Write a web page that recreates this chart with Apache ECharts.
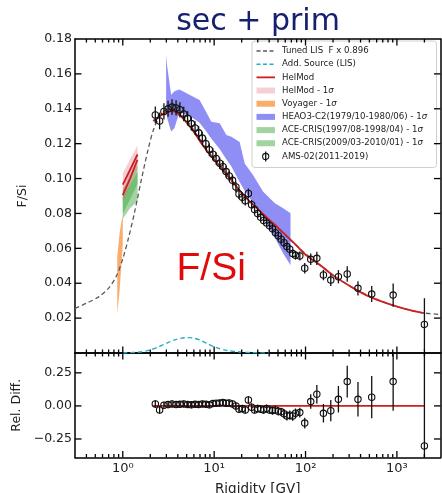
<!DOCTYPE html>
<html>
<head>
<meta charset="utf-8">
<script src="https://cdn.jsdelivr.net/npm/echarts@6/dist/echarts.min.js"></script>
<style>
  html, body { margin: 0; padding: 0; background: #fff; }
  #chart { width: 442px; height: 493px; }
</style>
</head>
<body>
<div id="chart"></div>
<script>
// ---- AMS-02 (2011-2019) F/Si ratio ----
const amsRigidity = [2.27, 2.53, 2.82, 3.13, 3.46, 3.83, 4.22, 4.65, 5.12, 5.63,
  6.18, 6.77, 7.42, 8.11, 8.86, 9.67, 10.5, 11.5, 12.5, 13.5,
  14.6, 15.9, 17.3, 18.7, 20.3, 21.9, 23.7, 25.7, 27.7, 29.9,
  32.3, 34.8, 37.5, 40.4, 43.5, 46.8, 50.3, 54.1, 58.2, 62.5,
  67.2, 72.3, 77.7, 86.6, 98, 114, 133, 157, 189, 229,
  286, 375, 530, 910, 2000];
const amsRatio = [0.1365, 0.1330, 0.1385, 0.1400, 0.1410, 0.1405, 0.1395, 0.1370, 0.1345, 0.1315,
  0.1290, 0.1262, 0.1232, 0.1200, 0.1165, 0.1140, 0.1115, 0.1088, 0.1068, 0.1040,
  0.1015, 0.0990, 0.0952, 0.0912, 0.0893, 0.0873, 0.0915, 0.0850, 0.0822, 0.0800,
  0.0778, 0.0760, 0.0745, 0.0730, 0.0712, 0.0690, 0.0672, 0.0652, 0.0632, 0.0610,
  0.0595, 0.0570, 0.0560, 0.0556, 0.0486, 0.0537, 0.0543, 0.0447, 0.0418, 0.0437,
  0.0453, 0.0371, 0.0338, 0.0332, 0.0164];
const amsRatioErr = [0.0048, 0.0048, 0.0047, 0.0046, 0.0045, 0.0044, 0.0043, 0.0042, 0.0041, 0.0040,
  0.0039, 0.0038, 0.0037, 0.0036, 0.0036, 0.0035, 0.0034, 0.0033, 0.0032, 0.0032,
  0.0031, 0.0030, 0.0030, 0.0029, 0.0029, 0.0028, 0.0028, 0.0027, 0.0027, 0.0026,
  0.0026, 0.0026, 0.0025, 0.0025, 0.0025, 0.0025, 0.0024, 0.0024, 0.0024, 0.0024,
  0.0024, 0.0025, 0.0025, 0.0026, 0.0030, 0.0033, 0.0038, 0.0030, 0.0034, 0.0038,
  0.0045, 0.0041, 0.0046, 0.0067, 0.0150];
const amsRelDiff = [0.015, -0.030, 0.005, 0.010, 0.015, 0.010, 0.012, 0.015, 0.010, 0.008,
  0.012, 0.010, 0.015, 0.012, 0.008, 0.018, 0.020, 0.022, 0.025, 0.020,
  0.022, 0.015, 0.000, -0.025, -0.020, -0.030, 0.045, -0.010, -0.030, -0.020,
  -0.025, -0.030, -0.020, -0.030, -0.035, -0.030, -0.040, -0.045, -0.060, -0.076,
  -0.070, -0.076, -0.055, -0.050, -0.130, 0.033, 0.088, -0.056, -0.036, 0.050,
  0.184, 0.050, 0.066, 0.184, -0.303];
const amsRelDiffErr = [0.028, 0.028, 0.027, 0.027, 0.026, 0.026, 0.025, 0.025, 0.025, 0.025,
  0.025, 0.025, 0.025, 0.025, 0.025, 0.025, 0.025, 0.025, 0.025, 0.025,
  0.025, 0.025, 0.026, 0.026, 0.027, 0.027, 0.028, 0.028, 0.028, 0.029,
  0.029, 0.030, 0.030, 0.030, 0.031, 0.031, 0.032, 0.032, 0.034, 0.035,
  0.035, 0.036, 0.036, 0.037, 0.040, 0.055, 0.070, 0.070, 0.080, 0.100,
  0.120, 0.130, 0.160, 0.220, 0.700];

// ---- HelMod modulated F/Si for the AMS-02 period ----
const helmodRigidity = [2.15, 2.5, 2.8, 3.2, 3.6, 4.0, 4.5, 5.0, 5.6, 6.4,
  7.4, 8.9, 10.6, 12.5, 14.7, 17.5, 21, 26.7, 33, 40,
  50, 62, 80, 100, 144, 200, 334, 500, 780, 1200, 1970];
const helmodRatio = [0.1330, 0.1355, 0.1372, 0.1385, 0.1385, 0.1372, 0.1348, 0.1320, 0.1288, 0.1245,
  0.1195, 0.1140, 0.1095, 0.1050, 0.1005, 0.0955, 0.0905, 0.0850, 0.0805, 0.0765,
  0.0718, 0.0672, 0.0615, 0.0563, 0.0505, 0.0445, 0.0372, 0.0323, 0.0285, 0.0255, 0.0228];
const relDiffRefRigidity = [2.15, 2000];
const relDiffRef = [0, 0];

// ---- HelMod at low rigidity (two periods) with 1 sigma bands ----
const helmodLowRigidity = [1.0, 1.2, 1.45];
const helmodLowA = [0.0965, 0.1050, 0.1138];
const helmodLowB = [0.0905, 0.1000, 0.1108];
const helmodBandALo = [0.0915, 0.1000, 0.1080];
const helmodBandAHi = [0.1030, 0.1110, 0.1190];
const helmodBandBLo = [0.0865, 0.0955, 0.1055];
const helmodBandBHi = [0.0955, 0.1045, 0.1155];

// ---- Tuned LIS (F x 0.896) ----
const lisRigidity = [0.3, 0.4, 0.55, 0.7, 0.85, 1.0, 1.15, 1.35, 1.6, 1.9,
  2.2, 2.6, 3.0, 3.5, 4.0, 5.0, 6.5, 8.5, 11, 15,
  20, 27, 40, 60, 90, 140, 220, 350, 550, 900, 1400, 2000, 3000];
const lisRatio = [0.0256, 0.0285, 0.0323, 0.0372, 0.0440, 0.0540, 0.0655, 0.0810, 0.0995, 0.1170,
  0.1290, 0.1365, 0.1395, 0.1400, 0.1385, 0.1335, 0.1250, 0.1160, 0.1080, 0.0995,
  0.0915, 0.0848, 0.0763, 0.0676, 0.0590, 0.0508, 0.0432, 0.0366, 0.0316, 0.0274, 0.0245, 0.0229, 0.0221];

// ---- Additional source (LIS) ----
const addRigidity = [1.0, 1.3, 1.65, 2.2, 2.74, 3.4, 4.2, 5.2, 6.5, 8.0, 9.6, 12, 16, 22, 30, 40];
const addRatio = [0.0000, 0.0003, 0.0008, 0.0025, 0.0046, 0.0068, 0.0083, 0.0088, 0.0080, 0.0060,
  0.0040, 0.0022, 0.0010, 0.0004, 0.0001, 0.0000];

// ---- Voyager 1 sigma ----
const voyagerRigidity = [0.87, 0.92, 0.97, 1.0];
const voyagerLo = [0.0225, 0.0350, 0.0520, 0.0620];
const voyagerHi = [0.0550, 0.0680, 0.0760, 0.0790];

// ---- HEAO3-C2 (1979/10-1980/06) 1 sigma ----
const heaoRigidity = [2.98, 3.05, 3.38, 3.68, 4.17, 5.37, 6.92, 8.21, 9.3, 11.5,
  13.6, 15.4, 19.0, 21.6, 26.6, 34.4, 46.2, 57, 68.5];
const heaoLo = [0.1390, 0.1350, 0.1270, 0.1290, 0.1380, 0.1360, 0.1320, 0.1270, 0.1230, 0.1170,
  0.1110, 0.1070, 0.0980, 0.0930, 0.0860, 0.0780, 0.0660, 0.0570, 0.0504];
const heaoHi = [0.1710, 0.1650, 0.1480, 0.1500, 0.1510, 0.1480, 0.1450, 0.1380, 0.1326, 0.1317,
  0.1250, 0.1240, 0.1210, 0.1087, 0.1020, 0.0925, 0.0858, 0.0830, 0.0801];

// ---- ACE-CRIS 1 sigma (1997/08-1998/04 and 2009/03-2010/01) ----
const aceRigidity = [1.0, 1.2, 1.45];
const ace1997Lo = [0.0800, 0.0880, 0.0970];
const ace1997Hi = [0.0935, 0.1005, 0.1080];
const ace2009Lo = [0.0770, 0.0830, 0.0870];
const ace2009Hi = [0.0900, 0.0960, 0.1040];

// ---- axis ticks ----
const xMajorTicks = [1, 10, 100, 1000];
const xMajorLabels = ['10\u2070', '10\u00b9', '10\u00b2', '10\u00b3'];
const xMinorTicks = [0.4, 0.5, 0.6, 0.7, 0.8, 0.9, 2, 3, 4, 5, 6, 7, 8, 9,
  20, 30, 40, 50, 60, 70, 80, 90, 200, 300, 400, 500, 600, 700, 800, 900, 2000];
const ratioTicks = [0.02, 0.04, 0.06, 0.08, 0.10, 0.12, 0.14, 0.16];
const relDiffTicks = [-0.25, 0, 0.25];

// ---- colours ----
const C_RED = '#cc1f1f';
const C_LIS = '#5a5a5a';
const C_ADD = '#1fb0c2';
const C_PINK = 'rgba(222,110,125,0.32)';
const C_ORANGE = 'rgba(248,140,50,0.72)';
const C_HEAO = 'rgba(88,88,240,0.68)';
const C_GREEN = 'rgba(70,170,70,0.5)';
const FONT = 'DejaVu Sans';

const zip = (xs, ys) => xs.map((x, i) => [x, ys[i]]);

function bandSeries(R, lo, hi, fill, z) {
  return {
    type: 'custom', xAxisIndex: 0, yAxisIndex: 0, z, silent: true, clip: true,
    data: R.map((r, i) => [r, lo[i], hi[i]]),
    encode: { x: 0, y: [1, 2] },
    renderItem(params, api) {
      if (params.dataIndex !== 0) return null;
      const upper = R.map((r, i) => api.coord([r, hi[i]]));
      const lower = R.map((r, i) => api.coord([r, lo[i]])).reverse();
      return { type: 'polygon', shape: { points: upper.concat(lower) }, style: { fill } };
    }
  };
}

function curveSeries(R, V, color, width, dash, xIdx, yIdx, z, smooth) {
  return {
    type: 'line', xAxisIndex: xIdx, yAxisIndex: yIdx, z, silent: true,
    data: zip(R, V), showSymbol: false, symbol: 'none', smooth: smooth || false,
    clip: true,
    lineStyle: { color, width, type: dash ? [4.5, 3] : 'solid', cap: 'butt' }
  };
}

function errorBarSeries(R, V, E, xIdx, yIdx) {
  return {
    type: 'custom', xAxisIndex: xIdx, yAxisIndex: yIdx, z: 20, silent: true, clip: true,
    data: R.map((r, i) => [r, V[i], E[i]]),
    encode: { x: 0, y: 1 },
    renderItem(params, api) {
      const x = api.value(0), y = api.value(1), e = api.value(2);
      const c = api.coord([x, y]);
      const top = api.coord([x, y + e]);
      const bot = api.coord([x, y - e]);
      return {
        type: 'group',
        children: [
          { type: 'line', shape: { x1: c[0], y1: top[1], x2: c[0], y2: bot[1] },
            style: { stroke: '#111', lineWidth: 1.3 } },
          { type: 'circle', shape: { cx: c[0], cy: c[1], r: 3.2 },
            style: { fill: 'none', stroke: '#111', lineWidth: 1.1 } }
        ]
      };
    }
  };
}

// Inward ticks on all four sides of a panel, placed through the panel's own axes.
// Row: [x, y, kind]  kind 0 = x major, 1 = x minor, 2 = y major
function tickSeries(xIdx, yIdx, yTicks, yRef) {
  const rows = []
    .concat(xMajorTicks.map(v => [v, yRef, 0]))
    .concat(xMinorTicks.map(v => [v, yRef, 1]))
    .concat(yTicks.map(v => [1, v, 2]));
  return {
    type: 'custom', xAxisIndex: xIdx, yAxisIndex: yIdx, z: 25, silent: true, clip: false,
    data: rows,
    encode: { x: 0, y: 1 },
    renderItem(params, api) {
      const cs = params.coordSys;
      const kind = api.value(2);
      const p = api.coord([api.value(0), api.value(1)]);
      const style = { stroke: '#000', lineWidth: 1.3 };
      if (kind === 2) {
        const L = 6.5;
        return { type: 'group', children: [
          { type: 'line', shape: { x1: cs.x, y1: p[1], x2: cs.x + L, y2: p[1] }, style },
          { type: 'line', shape: { x1: cs.x + cs.width - L, y1: p[1], x2: cs.x + cs.width, y2: p[1] }, style }
        ] };
      }
      const L = kind === 0 ? 6.5 : 3.5;
      return { type: 'group', children: [
        { type: 'line', shape: { x1: p[0], y1: cs.y, x2: p[0], y2: cs.y + L }, style },
        { type: 'line', shape: { x1: p[0], y1: cs.y + cs.height - L, x2: p[0], y2: cs.y + cs.height }, style }
      ] };
    }
  };
}

const frameLine = { show: true, onZero: false, lineStyle: { color: '#000', width: 1.5 } };

function logAxis(gridIndex, position, labels) {
  return {
    type: 'log', logBase: 10, min: 0.3, max: 3000, gridIndex, position,
    axisLine: frameLine,
    splitLine: { show: false },
    axisTick: { show: false },
    axisLabel: labels ? {
      show: true, customValues: xMajorTicks, margin: 5,
      fontFamily: FONT, fontSize: 13, color: '#222',
      formatter: v => xMajorLabels[Math.round(Math.log10(v))]
    } : { show: false },
    minorTick: { show: false }
  };
}

function valueAxis(gridIndex, position, min, max, extra) {
  return Object.assign({
    type: 'value', gridIndex, position, min, max,
    axisLine: frameLine, splitLine: { show: false },
    axisTick: { show: false },
    axisLabel: { show: false }
  }, extra);
}

const chart = echarts.init(document.getElementById('chart'), null, { renderer: 'canvas' });

const gridBase = { left: 75, width: 365.5, show: false,
  containLabel: false, outerBoundsMode: 'none' };

const option = {
  animation: false,
  backgroundColor: '#fff',
  grid: [
    Object.assign({ top: 39, height: 314 }, gridBase),
    Object.assign({ top: 353, height: 104.5 }, gridBase)
  ],
  xAxis: [
    logAxis(0, 'bottom', false),
    logAxis(0, 'top', false),
    Object.assign(logAxis(1, 'bottom', true), {
      name: 'Rigidity [GV]', nameLocation: 'middle', nameGap: 25,
      nameTextStyle: { fontFamily: FONT, fontSize: 13.5, color: '#222' }
    }),
    logAxis(1, 'top', false)
  ],
  yAxis: [
    valueAxis(0, 'left', 0, 0.18, {
      interval: 0.02,
      name: 'F/Si', nameLocation: 'middle', nameGap: 46, nameRotate: 90,
      nameTextStyle: { fontFamily: FONT, fontSize: 12.5, color: '#222' },
      axisLabel: { show: true, showMinLabel: false, margin: 3, fontFamily: FONT, fontSize: 12.5, color: '#222',
        formatter: v => v.toFixed(2) }
    }),
    valueAxis(0, 'right', 0, 0.18, { interval: 0.02 }),
    valueAxis(1, 'left', -0.39, 0.40, {
      name: 'Rel. Diff.', nameLocation: 'middle', nameGap: 46, nameRotate: 90,
      nameTextStyle: { fontFamily: FONT, fontSize: 12.5, color: '#222' },
      axisLabel: { show: true, customValues: relDiffTicks, margin: 3, fontFamily: FONT, fontSize: 12.5, color: '#222',
        formatter: v => (v < 0 ? '\u2212' : '') + Math.abs(v).toFixed(2) }
    }),
    valueAxis(1, 'right', -0.39, 0.40, {})
  ],
  series: [
    bandSeries(heaoRigidity, heaoLo, heaoHi, C_HEAO, 2),
    bandSeries(voyagerRigidity, voyagerLo, voyagerHi, C_ORANGE, 2),
    bandSeries(aceRigidity, ace1997Lo, ace1997Hi, C_GREEN, 2),
    bandSeries(aceRigidity, ace2009Lo, ace2009Hi, C_GREEN, 2),
    bandSeries(helmodLowRigidity, helmodBandALo, helmodBandAHi, C_PINK, 3),
    bandSeries(helmodLowRigidity, helmodBandBLo, helmodBandBHi, C_PINK, 3),
    curveSeries(lisRigidity, lisRatio, C_LIS, 1.3, true, 0, 0, 4, 0.3),
    curveSeries(addRigidity, addRatio, C_ADD, 1.4, true, 0, 0, 4, 0.4),
    curveSeries(helmodLowRigidity, helmodLowA, C_RED, 1.8, false, 0, 0, 5),
    curveSeries(helmodLowRigidity, helmodLowB, C_RED, 1.8, false, 0, 0, 5),
    curveSeries(helmodRigidity, helmodRatio, C_RED, 1.8, false, 0, 0, 6, 0.3),
    curveSeries(relDiffRefRigidity, relDiffRef, C_RED, 1.8, false, 2, 2, 6),
    errorBarSeries(amsRigidity, amsRatio, amsRatioErr, 0, 0),
    errorBarSeries(amsRigidity, amsRelDiff, amsRelDiffErr, 2, 2),
    tickSeries(0, 0, ratioTicks, 0.1),
    tickSeries(2, 2, relDiffTicks, 0)
  ]
};

// ---- legend, title and in-panel label ----
const legendRows = [
  { kind: 'line', color: C_LIS, dash: true, text: 'Tuned LIS  F x 0.896' },
  { kind: 'line', color: C_ADD, dash: true, text: 'Add. Source (LIS)' },
  { kind: 'line', color: C_RED, dash: false, text: 'HelMod' },
  { kind: 'rect', color: C_PINK, text: 'HelMod - 1', sigma: true },
  { kind: 'rect', color: C_ORANGE, text: 'Voyager - 1', sigma: true },
  { kind: 'rect', color: C_HEAO, text: 'HEAO3-C2(1979/10-1980/06) - 1', sigma: true },
  { kind: 'rect', color: C_GREEN, text: 'ACE-CRIS(1997/08-1998/04) - 1', sigma: true },
  { kind: 'rect', color: C_GREEN, text: 'ACE-CRIS(2009/03-2010/01) - 1', sigma: true },
  { kind: 'errbar', text: 'AMS-02(2011-2019)' }
];

const legendChildren = [
  { type: 'rect', shape: { x: 252, y: 41, width: 184.5, height: 126.5, r: 3 },
    style: { fill: 'rgba(255,255,255,0.92)', stroke: '#cfcfcf', lineWidth: 1 } }
];
legendRows.forEach((row, i) => {
  const cy = 51 + i * 13.18;
  if (row.kind === 'line') {
    legendChildren.push({ type: 'line', shape: { x1: 256.5, y1: cy, x2: 275, y2: cy },
      style: { stroke: row.color, lineWidth: row.dash ? 1.4 : 1.8, lineDash: row.dash ? [4, 2.5] : null } });
  } else if (row.kind === 'rect') {
    legendChildren.push({ type: 'rect', shape: { x: 256.5, y: cy - 3, width: 18.5, height: 6 },
      style: { fill: row.color } });
  } else {
    legendChildren.push({ type: 'line', shape: { x1: 265.7, y1: cy - 5, x2: 265.7, y2: cy + 5 },
      style: { stroke: '#111', lineWidth: 1.3 } });
    legendChildren.push({ type: 'circle', shape: { cx: 265.7, cy, r: 3.1 },
      style: { fill: 'none', stroke: '#111', lineWidth: 1.1 } });
  }
  legendChildren.push({
    type: 'text', x: 282, y: cy,
    style: {
      text: row.sigma ? '{t|' + row.text + '}{s|\u03c3}' : '{t|' + row.text + '}',
      rich: {
        t: { fontFamily: FONT, fontSize: 8.6, fill: '#222' },
        s: { fontFamily: FONT, fontSize: 8.6, fontStyle: 'italic', fill: '#222' }
      },
      verticalAlign: 'middle', align: 'left'
    }
  });
});

option.graphic = [
  { type: 'group', z: 50, children: legendChildren },
  { type: 'text', z: 50, x: 258, y: 22.5,
    style: { text: 'sec + prim', fontFamily: FONT, fontSize: 30, fill: '#16206e',
      align: 'center', verticalAlign: 'middle' } },
  { type: 'text', z: 50, x: 176.5, y: 269.5,
    style: { text: 'F/Si', fontFamily: 'Liberation Sans', fontSize: 39, fill: '#e00a0a',
      align: 'left', verticalAlign: 'middle' } }
];

chart.setOption(option);
</script>
</body>
</html>
